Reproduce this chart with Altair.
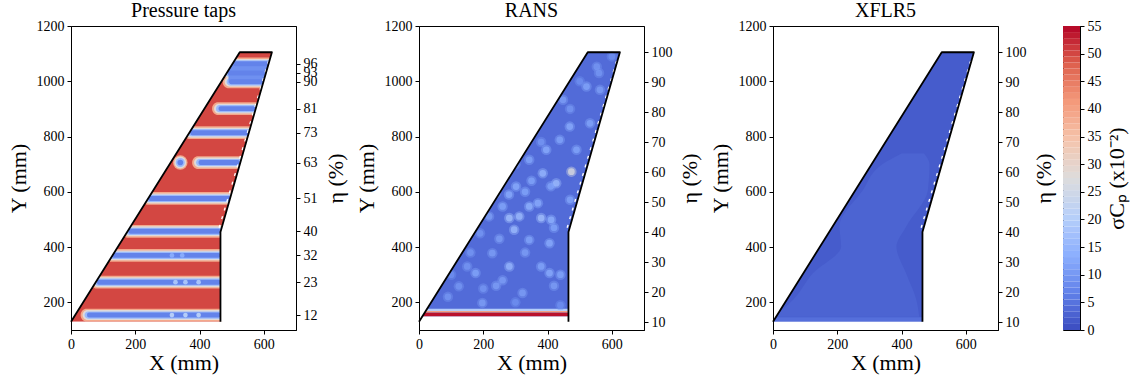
import altair as alt
import numpy as np
import pandas as pd

FONT = "Liberation Serif"

# ---------------- planform geometry (mm) ----------------
outline_x = [0, 525, 625, 465, 465]
outline_y = [130, 1105, 1105, 455, 130]
le_y = [130, 1105]
le_x = [0, 525]
te_y = [130, 455, 1105]
te_x = [465, 465, 625]
te_gap_x = [461, 619]
te_gap_y = [470, 1090]

# ---------------- colour map (coolwarm), sigma_Cp x10^-2 ----------------
cmap_colors = ["#3b4cc0", "#6282ea", "#8db0fe", "#b8d0f9", "#dddcdc",
               "#f5c4ac", "#f49a7b", "#de604d", "#b40426"]
cmap_values = [0, 6.875, 13.75, 20.625, 27.5, 34.375, 41.25, 48.125, 55]
cbar_ticks = [0, 5, 10, 15, 20, 25, 30, 35, 40, 45, 50, 55]

# ---------------- Pressure taps ----------------
tap_background = 50
tap_y = [154, 273, 370, 457, 576, 706, 814, 901, 998, 1030, 1063]
tap_x0 = [50, 81, 127, 179, 241, 397, 371, 459, 492, 488, 505]
tap_x1 = [465, 465, 465, 465, 497, 525, 553, 574, 600, 608, 616]
tap_eta_labels = [12, 23, 32, 40, 51, 63, 73, 81, 90, 93, 96]
tap_spot_x = [314, 356, 397, 325, 356, 397, 314, 346]
tap_spot_y = [154, 154, 154, 273, 273, 273, 370, 370]
tap_spot_v = [20, 20, 20, 18, 18, 18, 13, 13]
tap_dot_x = [340]
tap_dot_y = [706]
tip_x0 = [490]
tip_x1 = [620]
tip_y0 = [995]
tip_y1 = [1068]
tip_v = [9]

# ---------------- RANS ----------------
rans_base = 4
rans_root_y0 = [150, 163, 169]
rans_root_y1 = [163, 169, 177]
rans_root_v = [54, 40, 20]
blob_x = [474, 427, 385, 281, 312, 380, 411, 296, 343, 370, 260, 406, 281, 176,
          406, 228, 322, 197, 124, 469, 532, 490, 521, 563, 448, 396, 343, 438,
          218, 124, 343, 239, 302, 470, 553, 385, 160, 240, 330, 90, 440, 600,
          200, 260, 330, 380, 420, 150, 250, 420, 300, 380, 470, 500, 560, 350,
          190, 100, 300, 440, 410, 280]
blob_y = [673, 631, 667, 505, 511, 505, 499, 463, 547, 559, 547, 414, 330, 306,
          306, 378, 234, 198, 258, 836, 848, 752, 981, 969, 933, 752, 716, 788,
          511, 426, 426, 595, 619, 571, 1053, 884, 380, 260, 600, 220, 300, 1090,
          250, 280, 380, 330, 260, 330, 430, 470, 700, 780, 900, 1000, 1030, 640,
          450, 300, 200, 190, 620, 590]
blob_v = [27, 16, 15, 17, 16, 17, 14, 16, 14, 13, 12, 13, 15, 12,
          13, 11, 11, 11, 10, 13, 12, 12, 12, 11, 11, 13, 12, 12,
          11, 10, 12, 11, 13, 12, 10, 11, 10, 11, 12, 10, 12, 9,
          10, 11, 11, 12, 11, 10, 11, 12, 11, 10, 10, 9, 10, 12,
          10, 9, 9, 9, 12, 13]

# ---------------- XFLR5 ----------------
xflr_base = 2.0
xflr_light = 3.0
xflr_light_y = [148, 209, 305, 402, 474, 607, 700, 739]
xflr_light_x0 = [0, 62, 124, 212, 207, 280, 340, 400]
xflr_light_x1 = [455, 446, 414, 384, 414, 482, 487, 470]
xflr_root_y0 = [130]
xflr_root_y1 = [146]
xflr_root_v = [4.5]

# ---------------- encodings ----------------
X_DOM = [0, 700]
Y_DOM = [100, 1200]
W, H = 225, 304

cscale = alt.Scale(domain=cmap_values, range=cmap_colors, interpolate="rgb")


def xenc():
    return alt.X("x:Q", scale=alt.Scale(domain=X_DOM, nice=False, zero=False),
                 axis=alt.Axis(values=[0, 200, 400, 600], title="X (mm)", zindex=1,
                               labelFlush=False, format="d", titlePadding=1))


def yenc():
    return alt.Y("y:Q", scale=alt.Scale(domain=Y_DOM, nice=False, zero=False),
                 axis=alt.Axis(values=[200, 400, 600, 800, 1000, 1200], title="Y (mm)",
                               zindex=1, labelFlush=False, titlePadding=6, format="d"))


def cenc():
    return alt.Color("v:Q", scale=cscale, legend=None)


def planform_df(y_lo, value):
    ys = sorted(set([y_lo] + [y for y in te_y if y > y_lo]))
    return pd.DataFrame({"y": ys,
                         "x": np.interp(ys, le_y, le_x),
                         "x2": np.interp(ys, te_y, te_x),
                         "v": value})


def area_layer(df, interp="linear"):
    return alt.Chart(df).mark_area(orient="horizontal", interpolate=interp).encode(
        y=yenc(), x=xenc(), x2="x2:Q", color=cenc())


def rect_layer(df, radius=0):
    return alt.Chart(df).mark_rect(cornerRadius=radius).encode(
        x=xenc(), x2="x2:Q", y=yenc(), y2="y2:Q", color=cenc())


def circle_layer(df, size, opacity=1.0):
    return alt.Chart(df).mark_circle(size=size, opacity=opacity).encode(
        x=xenc(), y=yenc(), color=cenc())


def mask_layers():
    left = pd.DataFrame({"y": le_y, "x": [2, 2], "x2": le_x})
    right = pd.DataFrame({"y": te_y, "x": te_x, "x2": [698, 698, 698]})
    bottom = pd.DataFrame({"x": [2], "x2": [698], "y": [102], "y2": [130]})
    gap = pd.DataFrame({"x": te_gap_x, "y": te_gap_y})
    return [
        alt.Chart(left).mark_area(orient="horizontal", color="white").encode(
            y=yenc(), x=xenc(), x2="x2:Q"),
        alt.Chart(right).mark_area(orient="horizontal", color="white").encode(
            y=yenc(), x=xenc(), x2="x2:Q"),
        alt.Chart(bottom).mark_rect(color="white").encode(
            x=xenc(), x2="x2:Q", y=yenc(), y2="y2:Q"),
        alt.Chart(gap).mark_line(color="white", strokeWidth=1.4, strokeDash=[3, 6]).encode(
            x=xenc(), y=yenc()),
    ]


def outline_layer():
    df = pd.DataFrame({"x": outline_x, "y": outline_y, "i": range(len(outline_x))})
    return alt.Chart(df).mark_line(color="black", strokeWidth=1.8, strokeJoin="round").encode(
        x=xenc(), y=yenc(), order="i:O")


def eta_layer(domain, values, pad):
    df = pd.DataFrame({"eta": values})
    return alt.Chart(df).mark_point(opacity=0).encode(
        y=alt.Y("eta:Q", scale=alt.Scale(domain=domain, nice=False, zero=False),
                axis=alt.Axis(orient="right", values=values, title="η (%)",
                              titleAngle=270, titleBaseline="top", labelOverlap=False,
                              zindex=1, labelFlush=False, titlePadding=pad)))


def panel(title, layers, eta_dom, eta_vals, pad):
    main = alt.layer(*layers, *mask_layers(), outline_layer())
    return alt.layer(main, eta_layer(eta_dom, eta_vals, pad)).resolve_scale(
        y="independent").properties(width=W, height=H, title=title)


# ----- panel 1: pressure taps -----
# gradient halo around each tap row: (half height mm, x extension mm, value, corner px)
halo = [(23, 20, 39, 6), (18, 14, 28, 5), (13, 8, 16, 4), (9, 0, 7, 2)]
p1_layers = [area_layer(planform_df(130, tap_background))]
for k, (dy, dx, v, r) in enumerate(halo):
    if k == 3:
        p1_layers.append(rect_layer(pd.DataFrame({"x": tip_x0, "x2": tip_x1, "y": tip_y0,
                                                  "y2": tip_y1, "v": tip_v})))
    df = pd.DataFrame({"x": np.array(tap_x0) - dx, "x2": np.array(tap_x1) + dx,
                       "y": np.array(tap_y) - dy, "y2": np.array(tap_y) + dy, "v": v})
    p1_layers.append(rect_layer(df, r))
for s, v in [(210, 39), (140, 28), (80, 16), (32, 7)]:
    p1_layers.append(circle_layer(pd.DataFrame({"x": tap_dot_x, "y": tap_dot_y, "v": v}), s))
p1_layers.append(circle_layer(pd.DataFrame({"x": tap_spot_x, "y": tap_spot_y, "v": tap_spot_v}), 22))
eta_tap_dom = [7.0, 108.7]
p1 = panel("Pressure taps", p1_layers, eta_tap_dom, tap_eta_labels, 8)

# ----- panel 2: RANS -----
eta_dom = [7.5, 108.7]
eta_vals = [10, 20, 30, 40, 50, 60, 70, 80, 90, 100]
p2_layers = [
    area_layer(planform_df(150, rans_base)),
    rect_layer(pd.DataFrame({"x": 0, "x2": 465, "y": rans_root_y0, "y2": rans_root_y1,
                             "v": rans_root_v})),
    circle_layer(pd.DataFrame({"x": blob_x, "y": blob_y, "v": blob_v}), 110, 0.4),
    circle_layer(pd.DataFrame({"x": blob_x, "y": blob_y, "v": blob_v}), 45, 0.75),
]
p2 = panel("RANS", p2_layers, eta_dom, eta_vals, 7)

# ----- panel 3: XFLR5 -----
light_df = pd.DataFrame({"y": xflr_light_y, "x": xflr_light_x0, "x2": xflr_light_x1,
                         "v": xflr_light})
p3_layers = [
    area_layer(planform_df(130, xflr_base)),
    area_layer(light_df, "monotone"),
    rect_layer(pd.DataFrame({"x": 0, "x2": 465, "y": xflr_root_y0, "y2": xflr_root_y1,
                             "v": xflr_root_v})),
]
p3 = panel("XFLR5", p3_layers, eta_dom, eta_vals, 7)

# ----- colour bar -----
edges = np.linspace(0, 55, 51)
cb_df = pd.DataFrame({"lo": edges[:-1], "hi": edges[1:], "v": (edges[:-1] + edges[1:]) / 2})
cbar = alt.Chart(cb_df).mark_rect().encode(
    y=alt.Y("lo:Q", scale=alt.Scale(domain=[0, 55], nice=False, zero=False),
            axis=alt.Axis(orient="right", values=cbar_ticks, title="σCₚ (x10⁻²)",
                          titleAngle=270, titleBaseline="top", labelFlush=False,
                          titlePadding=5)),
    y2="hi:Q",
    color=alt.Color("v:Q", scale=cscale, legend=None),
).properties(width=17, height=H, title=" ")

chart = alt.hconcat(p1, p2, p3, cbar, spacing=7).configure_axis(
    labelFont=FONT, titleFont=FONT, labelFontSize=14, titleFontSize=22,
    titleFontWeight="normal", labelColor="black", titleColor="black",
    tickColor="black", domainColor="black", tickSize=4, grid=False, labelPadding=3,
).configure_view(stroke="black", strokeWidth=1).configure_title(
    font=FONT, fontSize=20, fontWeight="normal", color="black", offset=-2
).properties(padding={"left": 6, "top": 0, "right": 2, "bottom": 2})

chart.save("out.html", embed_options={"renderer": "svg", "actions": False})
